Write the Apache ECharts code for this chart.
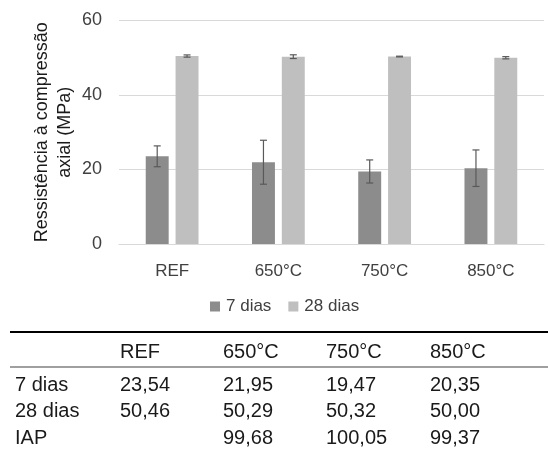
<!DOCTYPE html>
<html>
<head>
<meta charset="utf-8">
<script src="https://cdn.jsdelivr.net/npm/echarts@6/dist/echarts.min.js"></script>
<style>
html,body{margin:0;padding:0;background:#fff;}
#c{width:548px;height:463px;}
</style>
</head>
<body>
<div id="c"></div>
<script>
var categories = ['REF', '650°C', '750°C', '850°C'];
var seriesNames = ['7 dias', '28 dias'];
var dias7 = [23.54, 21.95, 19.47, 20.35];
var dias28 = [50.46, 50.29, 50.32, 50.00];
var err7 = [2.8, 5.9, 3.1, 4.9];
var err28 = [0.3, 0.5, 0.1, 0.3];
var iap = [null, 99.68, 100.05, 99.37];
var yTicks = [0, 20, 40, 60];
var tableHeader = ['', 'REF', '650°C', '750°C', '850°C'];
var rowLabels = ['7 dias', '28 dias', 'IAP'];

var FONT = '"Liberation Sans", Arial, sans-serif';
var BAR_FRAC = 0.216, GAP = 0.30;
var OFF = BAR_FRAC * (1 + GAP) / 2;

function fmt(v) { return v == null ? '' : v.toFixed(2).replace('.', ','); }

function errSeries(means, errs, sign) {
  return {
    type: 'custom',
    z: 10,
    silent: true,
    data: means.map(function (m, i) { return [i, m, errs[i]]; }),
    encode: { x: 0, y: 1 },
    renderItem: function (params, api) {
      var i = api.value(0), m = api.value(1), e = api.value(2);
      var band = api.size([1, 0])[0];
      var hi = api.coord([i, m + e]);
      var lo = api.coord([i, m - e]);
      var x = hi[0] + sign * band * OFF;
      var cap = 3.5;
      var st = { stroke: '#595959', lineWidth: 1.2 };
      return {
        type: 'group',
        children: [
          { type: 'line', shape: { x1: x, y1: hi[1], x2: x, y2: lo[1] }, style: st },
          { type: 'line', shape: { x1: x - cap, y1: hi[1], x2: x + cap, y2: hi[1] }, style: st },
          { type: 'line', shape: { x1: x - cap, y1: lo[1], x2: x + cap, y2: lo[1] }, style: st }
        ]
      };
    }
  };
}

// table graphics
var colX = [15, 120, 223, 326, 430];
var headerY = 352;
var rowY = [385, 411, 438];
var tableRows = [dias7.map(fmt), dias28.map(fmt), iap.map(fmt)];
var TFONT = '20px ' + FONT;
var graphics = [
  { type: 'line', shape: { x1: 10, y1: 332, x2: 548, y2: 332 }, style: { stroke: '#000', lineWidth: 2 } },
  { type: 'line', shape: { x1: 10, y1: 367, x2: 548, y2: 367 }, style: { stroke: '#808080', lineWidth: 1.5 } }
];
tableHeader.forEach(function (t, j) {
  if (!t) return;
  graphics.push({ type: 'text', x: colX[j], y: headerY,
    style: { text: t, font: TFONT, fill: '#1a1a1a', verticalAlign: 'middle', align: 'left' } });
});
rowLabels.forEach(function (lab, r) {
  graphics.push({ type: 'text', x: colX[0], y: rowY[r],
    style: { text: lab, font: TFONT, fill: '#1a1a1a', verticalAlign: 'middle', align: 'left' } });
  tableRows[r].forEach(function (v, j) {
    graphics.push({ type: 'text', x: colX[j + 1], y: rowY[r],
      style: { text: v, font: TFONT, fill: '#1a1a1a', verticalAlign: 'middle', align: 'left' } });
  });
});

var chart = echarts.init(document.getElementById('c'), null, { renderer: 'canvas' });
chart.setOption({
  animation: false,
  backgroundColor: '#fff',
  textStyle: { fontFamily: FONT },
  grid: { left: 119, right: 4, top: 20.5, bottom: 219, containLabel: false, outerBoundsMode: 'none' },
  legend: {
    data: seriesNames,
    left: 210, top: 298,
    padding: 0,
    itemWidth: 10, itemHeight: 10, itemGap: 17,
    icon: 'rect',
    textStyle: { fontSize: 17, color: '#404040', fontFamily: FONT, padding: [0, 0, 0, 1] }
  },
  xAxis: {
    type: 'category',
    data: categories,
    axisLine: { lineStyle: { color: '#d9d9d9', width: 1.2 } },
    axisTick: { show: false },
    axisLabel: { fontSize: 17, color: '#404040', margin: 19, fontFamily: FONT }
  },
  yAxis: {
    type: 'value',
    min: yTicks[0], max: yTicks[yTicks.length - 1], interval: 20,
    name: 'Ressistência à compressão\naxial (MPa)',
    nameLocation: 'middle',
    nameRotate: 90,
    nameGap: 42,
    nameMoveOverlap: false,
    nameTextStyle: { fontSize: 18, color: '#1a1a1a', lineHeight: 23, fontFamily: FONT },
    axisLine: { show: false },
    axisTick: { show: false },
    splitLine: { lineStyle: { color: '#d9d9d9', width: 1.2 } },
    axisLabel: { fontSize: 18, color: '#404040', margin: 17, fontFamily: FONT }
  },
  series: [
    { name: seriesNames[0], type: 'bar', data: dias7, barWidth: (BAR_FRAC * 100) + '%', barGap: (GAP * 100) + '%',
      itemStyle: { color: '#8c8c8c' } },
    { name: seriesNames[1], type: 'bar', data: dias28, barWidth: (BAR_FRAC * 100) + '%', barGap: (GAP * 100) + '%',
      itemStyle: { color: '#bfbfbf' } },
    errSeries(dias7, err7, -1),
    errSeries(dias28, err28, 1)
  ],
  graphic: graphics
});
</script>
</body>
</html>
